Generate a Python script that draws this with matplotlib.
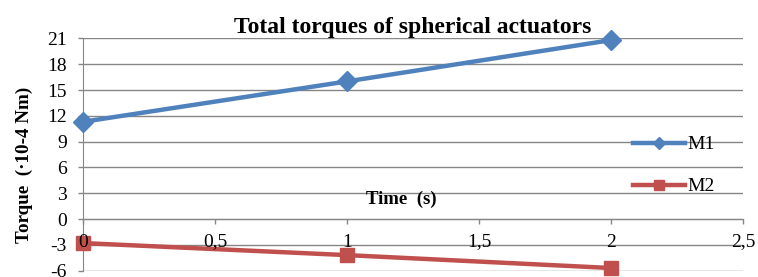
import matplotlib
matplotlib.use("Agg")
import matplotlib.pyplot as plt
from matplotlib.ticker import FixedLocator

time_s = [0, 1, 2]
m1 = [11.3, 16.0, 20.8]
m2 = [-2.8, -4.2, -5.7]
yticks = [-6, -3, 0, 3, 6, 9, 12, 15, 18, 21]
xticks = [0, 0.5, 1, 1.5, 2, 2.5]
xticklabels = ["0", "0,5", "1", "1,5", "2", "2,5"]

plt.rcParams['font.family'] = ['Liberation Serif', 'DejaVu Serif']

fig = plt.figure(figsize=(7.58, 2.77), dpi=100)
ax = fig.add_axes([83/758, 1-270.6/277, 660/758, (270.6-38.4)/277])

grid_c = '#868686'
ax.plot(time_s, m1, color='#4F81BD', lw=3.2, marker='D', markersize=10, label='M1', zorder=3, clip_on=False)
ax.plot(time_s, m2, color='#C0504D', lw=3.2, marker='s', markersize=10, label='M2', zorder=3, clip_on=False)

ax.set_xlim(0, 2.5)
ax.set_ylim(-6, 21)
ax.yaxis.set_major_locator(FixedLocator(yticks))
ax.set_yticklabels([str(v) for v in yticks])
ax.set_xticks(xticks)
ax.set_xticklabels(xticklabels)
ax.grid(axis='y', color=grid_c, lw=1.0)
ax.set_axisbelow(True)
ax.xaxis.set_zorder(5)

for s in ['top', 'right']:
    ax.spines[s].set_visible(False)
ax.spines['left'].set_color(grid_c)
ax.spines['bottom'].set_color(grid_c)
ax.spines['bottom'].set_position(('data', 0))
ax.spines['bottom'].set_zorder(1)
ax.tick_params(axis='both', colors=grid_c, labelcolor='black', labelsize=14, length=3.5, width=1)
ax.tick_params(axis='y', pad=8)
ax.tick_params(axis='x', pad=7)

ax.set_title('Total torques of spherical actuators', fontsize=17, fontweight='bold', pad=4)
ax.set_ylabel('Torque  (·10-4 Nm)', fontsize=13.7, fontweight='bold')
ax.yaxis.set_label_coords(-0.076, 0.455)
ax.set_xlabel('Time  (s)', fontsize=13.5, fontweight='bold')
ax.xaxis.set_label_coords(0.483, 0.345)

leg = ax.legend(loc='center left', bbox_to_anchor=(0.833, 0.452), frameon=False, fontsize=14,
                handlelength=2.67, labelspacing=1.25, handletextpad=0.15, borderaxespad=0,
                borderpad=0, markerscale=0.65)

fig.savefig('out.png', dpi=100)
